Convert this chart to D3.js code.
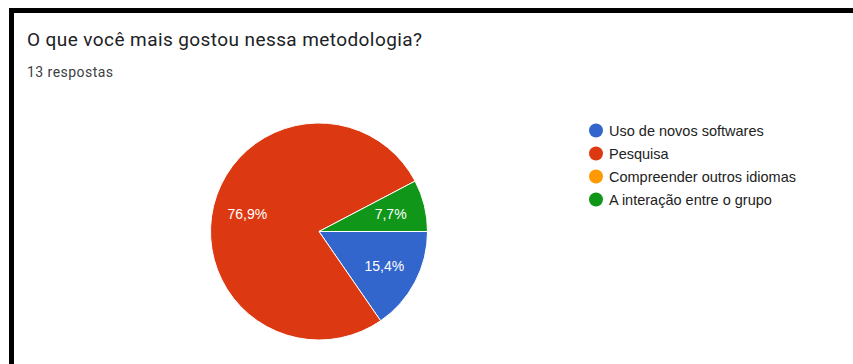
<!DOCTYPE html>
<html>
<head>
<meta charset="utf-8">
<script src="https://cdn.jsdelivr.net/npm/d3@7"></script>
<style>
  html, body { margin: 0; padding: 0; background: #fff; }
  svg { display: block; }
</style>
</head>
<body>
<svg id="chart" width="853" height="364"></svg>
<script>
// Survey responses: "O que você mais gostou nessa metodologia?"
const categories = ["Uso de novos softwares", "Pesquisa", "Compreender outros idiomas", "A interação entre o grupo"];
const counts = [2, 10, 0, 1];
const colors = ["#3366cc", "#dc3912", "#ff9900", "#109618"];
const title = "O que você mais gostou nessa metodologia?";
const subtitle = "13 respostas";

const svg = d3.select("#chart");
const W = 853, H = 364;

// card frame (thick dark edge on top and left)
svg.append("rect").attr("x", 9).attr("y", 8).attr("width", W - 9).attr("height", 5).attr("fill", "#000");
svg.append("rect").attr("x", 9).attr("y", 8).attr("width", 5).attr("height", H - 8).attr("fill", "#000");

svg.append("text")
  .attr("x", 27).attr("y", 46)
  .attr("font-family", "Roboto, 'Open Sans', sans-serif")
  .attr("font-size", 19)
  .attr("textLength", 395)
  .attr("lengthAdjust", "spacing")
  .attr("fill", "#202124")
  .text(title);

svg.append("text")
  .attr("x", 27).attr("y", 77)
  .attr("font-family", "Roboto, sans-serif")
  .attr("font-size", 14)
  .attr("textLength", 86)
  .attr("lengthAdjust", "spacing")
  .attr("fill", "#3c4043")
  .text(subtitle);

// pie
const cx = 319, cy = 231.5, r = 108.5;
const total = d3.sum(counts);
const pie = d3.pie().sort(null).value(d => d.v)
  .startAngle(Math.PI / 2).endAngle(Math.PI / 2 + 2 * Math.PI);
const data = categories.map((c, i) => ({ c, v: counts[i], col: colors[i] }));
const arcs = pie(data).filter(a => a.data.v > 0);

const arc = d3.arc().innerRadius(0).outerRadius(r);
const labelArc = d3.arc().innerRadius(r * 0.68).outerRadius(r * 0.68);

const g = svg.append("g").attr("transform", `translate(${cx},${cy})`);
g.selectAll("path").data(arcs).join("path")
  .attr("d", arc)
  .attr("fill", d => d.data.col)
  .attr("stroke", "#fff")
  .attr("stroke-width", 1);

const fmt = v => (v / total * 100).toFixed(1).replace(".", ",") + "%";
g.selectAll("text.lbl").data(arcs).join("text")
  .attr("class", "lbl")
  .attr("transform", d => `translate(${labelArc.centroid(d)})`)
  .attr("text-anchor", "middle")
  .attr("dy", "0.36em")
  .attr("font-family", "Arial, 'Liberation Sans', sans-serif")
  .attr("font-size", 14)
  .attr("fill", "#fff")
  .text(d => fmt(d.data.v));

// legend
const lg = svg.append("g").attr("transform", "translate(596,130.5)");
const items = lg.selectAll("g").data(data).join("g")
  .attr("transform", (d, i) => `translate(0,${i * 23})`);
items.append("circle").attr("r", 7).attr("fill", d => d.col);
items.append("text")
  .attr("x", 13).attr("dy", "0.36em")
  .attr("font-family", "Arial, 'Liberation Sans', sans-serif")
  .attr("font-size", 14.5)
  .attr("fill", "#222")
  .text(d => d.c);
</script>
</body>
</html>
